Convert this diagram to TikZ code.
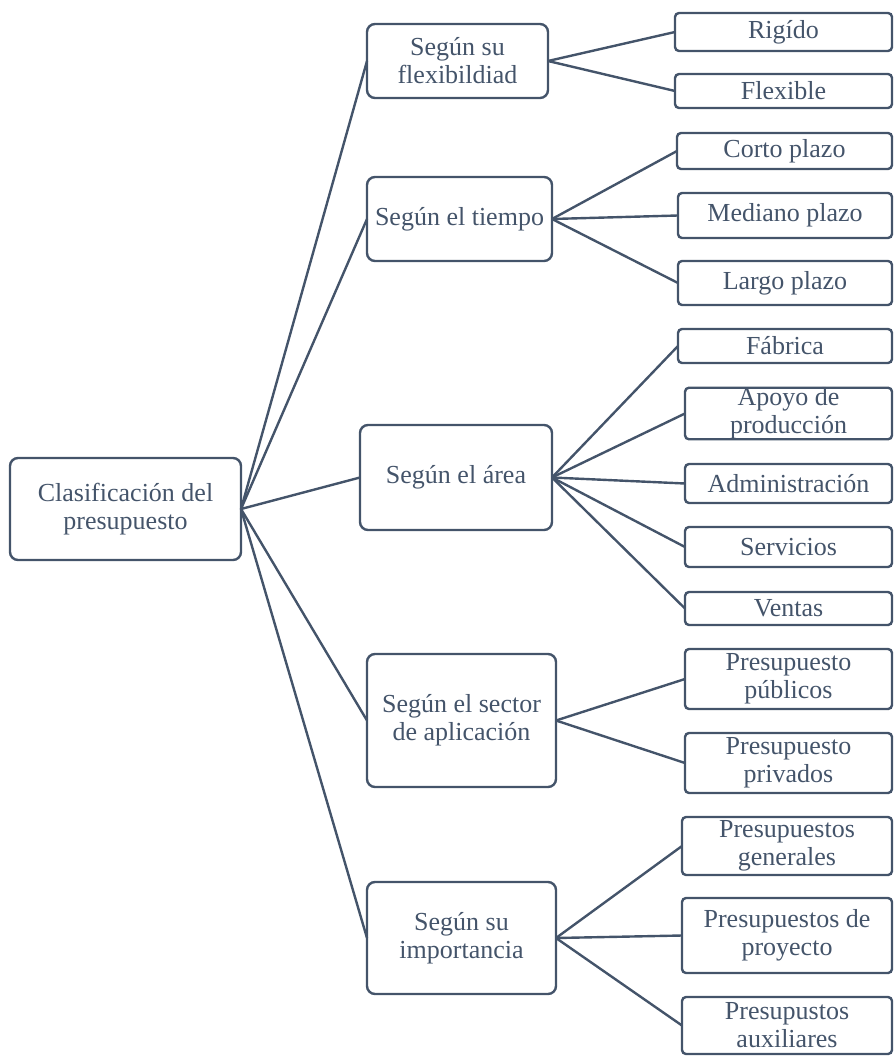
\documentclass[tikz,border=0pt]{standalone}
\usepackage{fontspec}
\setmainfont{Liberation Serif}
\definecolor{slate}{RGB}{68,84,106}
\begin{document}
\begin{tikzpicture}[x=1pt,y=-1pt,
  base/.style={draw=slate, line width=2.4pt, text=slate, inner sep=0pt, outer sep=0pt,
    align=center, font=\fontsize{26}{28}\selectfont},
  bigbox/.style={base, rounded corners=8pt},
  leafbox/.style={base, rounded corners=4pt},
  conn/.style={draw=slate, line width=2.4pt}]
\useasboundingbox (0,0) rectangle (893,1056);
% root
\node[bigbox, minimum width=231, minimum height=102] (root) at (125.5,509) {Clasificación del\\presupuesto};
% level 2
\node[bigbox, minimum width=181, minimum height=74] (flex) at (457.5,61) {Según su\\flexibildiad};
\node[bigbox, minimum width=185, minimum height=84] (tiempo) at (459.5,219) {Según el tiempo};
\node[bigbox, minimum width=192, minimum height=105] (area) at (456,477.5) {Según el área};
\node[bigbox, minimum width=189, minimum height=133] (sector) at (461.5,720.5) {Según el sector\\de aplicación};
\node[bigbox, minimum width=189, minimum height=112] (imp) at (461.5,938) {Según su\\importancia};
% leaves
\node[leafbox, minimum width=217, minimum height=38] (rig) at (783.5,32) {Rigído};
\node[leafbox, minimum width=217, minimum height=34] (fle) at (783.5,91) {Flexible};
\node[leafbox, minimum width=215, minimum height=36] (cor) at (784.5,151) {Corto plazo};
\node[leafbox, minimum width=214, minimum height=45] (med) at (785,215.5) {Mediano plazo};
\node[leafbox, minimum width=214, minimum height=44] (lar) at (785,283) {Largo plazo};
\node[leafbox, minimum width=214, minimum height=34] (fab) at (785,346) {Fábrica};
\node[leafbox, minimum width=207, minimum height=51] (apo) at (788.5,413.5) {Apoyo de\\producción};
\node[leafbox, minimum width=207, minimum height=39] (adm) at (788.5,483.5) {Administración};
\node[leafbox, minimum width=207, minimum height=40] (ser) at (788.5,547) {Servicios};
\node[leafbox, minimum width=207, minimum height=33] (ven) at (788.5,608.5) {Ventas};
\node[leafbox, minimum width=207, minimum height=60] (pub) at (788.5,679) {Presupuesto\\públicos};
\node[leafbox, minimum width=207, minimum height=60] (pri) at (788.5,763) {Presupuesto\\privados};
\node[leafbox, minimum width=210, minimum height=58] (gen) at (787,846) {Presupuestos\\generales};
\node[leafbox, minimum width=210, minimum height=75] (pro) at (787,935.5) {Presupuestos de\\proyecto};
\node[leafbox, minimum width=210, minimum height=57] (aux) at (787,1025.5) {Presupustos\\auxiliares};
% connectors
\foreach \c in {flex,tiempo,area,sector,imp} \draw[conn] (root.east) -- (\c.west);
\foreach \c in {rig,fle} \draw[conn] (flex.east) -- (\c.west);
\foreach \c in {cor,med,lar} \draw[conn] (tiempo.east) -- (\c.west);
\foreach \c in {fab,apo,adm,ser,ven} \draw[conn] (area.east) -- (\c.west);
\foreach \c in {pub,pri} \draw[conn] (sector.east) -- (\c.west);
\foreach \c in {gen,pro,aux} \draw[conn] (imp.east) -- (\c.west);
\end{tikzpicture}
\end{document}
